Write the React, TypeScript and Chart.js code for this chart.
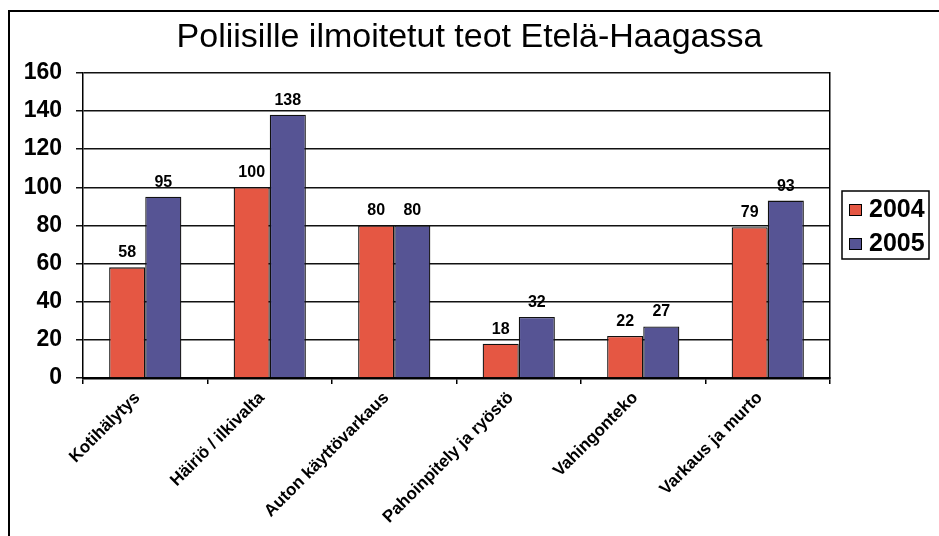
import React, { useEffect, useRef } from "react";
import { Chart, registerables } from "chart.js";

Chart.register(...registerables);

const titleText = "Poliisille ilmoitetut teot Etelä-Haagassa";
const categories = [
  "Kotihälytys",
  "Häiriö / ilkivalta",
  "Auton käyttövarkaus",
  "Pahoinpitely ja ryöstö",
  "Vahingonteko",
  "Varkaus ja murto",
];
const seriesLabels = ["2004", "2005"];
const values2004 = [58, 100, 80, 18, 22, 79];
const values2005 = [95, 138, 80, 32, 27, 93];
const yMin = 0;
const yMax = 160;
const yStep = 20;

const FONT = "'Liberation Sans', Arial, Helvetica, sans-serif";
const RED = "rgb(229,87,67)";
const BLUE = "rgb(86,84,148)";

const framePlugin = {
  id: "framePlugin",
  beforeDraw(chart: any) {
    const { ctx, width, height } = chart;
    ctx.save();
    ctx.fillStyle = "#fff";
    ctx.fillRect(0, 0, width, height);
    ctx.strokeStyle = "#000";
    ctx.lineWidth = 2;
    ctx.beginPath();
    ctx.moveTo(9, height + 2);
    ctx.lineTo(9, 11);
    ctx.lineTo(width + 2, 11);
    ctx.stroke();
    ctx.restore();
  },
  afterDraw(chart: any) {
    const { ctx } = chart;
    ctx.save();
    // legend box
    const lx = 842;
    const ly = 191;
    const lw = 87;
    const lh = 68;
    ctx.strokeStyle = "#000";
    ctx.lineWidth = 1.5;
    ctx.strokeRect(lx, ly, lw, lh);
    ctx.font = `bold 25px ${FONT}`;
    ctx.textBaseline = "alphabetic";
    ctx.textAlign = "left";
    chart.data.datasets.forEach((ds: any, i: number) => {
      const sy = 204 + i * 34;
      ctx.fillStyle = ds.backgroundColor;
      ctx.fillRect(lx + 7, sy, 13, 12);
      ctx.lineWidth = 1;
      ctx.strokeStyle = "#000";
      ctx.strokeRect(lx + 7.5, sy + 0.5, 12, 11);
      ctx.fillStyle = "#000";
      ctx.fillText(ds.label, lx + 27, sy + 13);
    });
    ctx.restore();
  },
};

const valueLabelPlugin = {
  id: "valueLabelPlugin",
  afterDatasetsDraw(chart: any) {
    const { ctx } = chart;
    ctx.save();
    ctx.font = `bold 16px ${FONT}`;
    ctx.fillStyle = "#000";
    ctx.textAlign = "center";
    ctx.textBaseline = "alphabetic";
    chart.data.datasets.forEach((ds: any, di: number) => {
      const meta = chart.getDatasetMeta(di);
      meta.data.forEach((el: any, i: number) => {
        ctx.fillText(String(ds.data[i]), el.x, el.y - 10);
      });
    });
    ctx.restore();
  },
};

export default function App() {
  const canvasRef = useRef<HTMLCanvasElement | null>(null);

  useEffect(() => {
    const canvas = canvasRef.current;
    if (!canvas) return;
    const chart = new Chart(canvas, {
      type: "bar",
      data: {
        labels: categories,
        datasets: [
          {
            label: seriesLabels[0],
            data: values2004,
            backgroundColor: RED,
            borderColor: "#111",
            borderWidth: 1.3,
            categoryPercentage: 0.58,
            barPercentage: 1.0,
          },
          {
            label: seriesLabels[1],
            data: values2005,
            backgroundColor: BLUE,
            borderColor: "#111",
            borderWidth: 1.3,
            categoryPercentage: 0.58,
            barPercentage: 1.0,
          },
        ],
      },
      options: {
        animation: false,
        responsive: false,
        maintainAspectRatio: false,
        devicePixelRatio: 1,
        layout: {
          padding: { top: 7, left: 0, right: 0, bottom: 0 },
        },
        plugins: {
          legend: { display: false },
          tooltip: { enabled: false },
          title: {
            display: true,
            text: titleText,
            color: "#000",
            font: { family: FONT, size: 34, weight: "normal" },
            padding: { top: 10, bottom: 15 },
          },
        },
        scales: {
          x: {
            grid: {
              display: true,
              drawOnChartArea: false,
              drawTicks: true,
              tickLength: 6,
              color: "#000",
              lineWidth: 1.5,
              offset: true,
            },
            border: { display: true, color: "#000", width: 2.5 },
            ticks: {
              autoSkip: false,
              maxRotation: 45,
              minRotation: 45,
              color: "#000",
              padding: 4,
              labelOffset: -8,
              font: { family: FONT, size: 17, weight: "bold" },
            },
            afterFit(scale: any) {
              scale.height = 158;
            },
          },
          y: {
            min: yMin,
            max: yMax,
            ticks: {
              stepSize: yStep,
              color: "#000",
              padding: 14,
              font: { family: FONT, size: 23, weight: "bold" },
            },
            grid: {
              color: "#111",
              lineWidth: 1.5,
              tickLength: 7,
              drawTicks: true,
            },
            border: { display: true, color: "#000", width: 1.5 },
            afterFit(scale: any) {
              scale.width = 83;
            },
          },
          yRight: {
            position: "right",
            min: yMin,
            max: yMax,
            ticks: { display: false },
            grid: { display: false, drawOnChartArea: false, drawTicks: false },
            border: { display: true, color: "#000", width: 1.5 },
            afterFit(scale: any) {
              scale.width = 109;
            },
          },
        },
      },
      plugins: [framePlugin, valueLabelPlugin],
    } as any);
    return () => chart.destroy();
  }, []);

  return (
    <div style={{ position: "fixed", left: 0, top: 0, width: 939, height: 536, background: "#fff" }}>
      <canvas ref={canvasRef} width={939} height={536} style={{ width: 939, height: 536, display: "block" }} />
    </div>
  );
}
